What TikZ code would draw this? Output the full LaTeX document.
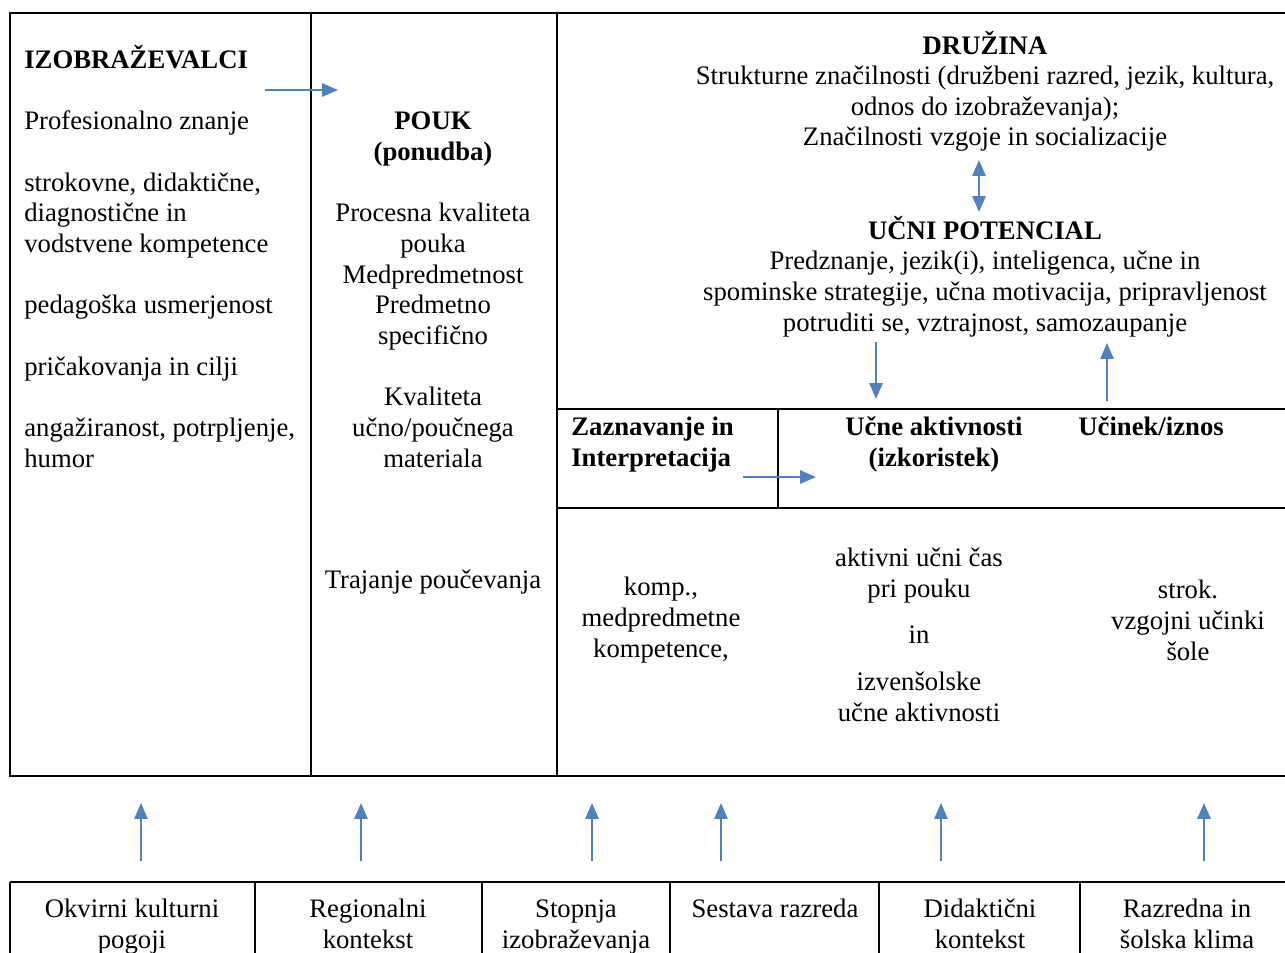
\documentclass[tikz,border=0pt]{standalone}
\usepackage{fontspec}
\setmainfont{Liberation Serif}
\usetikzlibrary{arrows.meta}
\definecolor{arrowblue}{RGB}{79,129,189}
\newcommand{\linegap}{17.45pt}
\tikzset{
  >={Triangle[length=9pt,width=7.5pt]},
  {frame/.style} ={draw, line width=1.2pt},
  {txt/.style} ={inner sep=0, font=\fontsize{15.2}{17.45}\selectfont},
  {boldtxt/.style} ={inner sep=0, font=\fontsize{15.2}{17.45}\selectfont\bfseries},
  {lefttxt/.style} ={align=left, anchor=base west},
  {midtxt/.style} ={align=center, anchor=base},
  {flow/.style} ={->, draw=arrowblue, line width=1.1pt},
  {twoflow/.style} ={flow, <->},
}
\begin{document}
\begin{tikzpicture}[x=0.02cm, y=-0.02cm]
    \useasboundingbox (0,0) rectangle (1285,953);
    \clip (0,0) rectangle (1285,953);
    % upper table
    \draw[frame] (10,13) rectangle (1295,776);
    \draw[frame] (311,13) -- (311,776);
    \draw[frame] (557,13) -- (557,776);
    \draw[frame] (557,409) -- (1295,409);
    \draw[frame] (557,508) -- (1295,508);
    \draw[frame] (778,409) -- (778,508);
    % lower table
    \draw[frame] (10,882) -- (1295,882);
    \foreach \x in {10,255,482,670,879,1080}
      \draw[frame] (\x,882) -- (\x,970);

    % nodes are placed by the baseline of their last line
    \node[txt,lefttxt] (izob) at (24,467) {\textbf{IZOBRAŽEVALCI}\\[\linegap]
      Profesionalno znanje\\[\linegap]
      strokovne, didaktične,\\ diagnostične in\\ vodstvene kompetence\\[\linegap]
      pedagoška usmerjenost\\[\linegap]
      pričakovanja in cilji\\[\linegap]
      angažiranost, potrpljenje,\\ humor};
    \node[txt,midtxt] (pouk) at (433,467) {\textbf{POUK}\\ \textbf{(ponudba)}\\[\linegap]
      Procesna kvaliteta\\ pouka\\ Medpredmetnost\\ Predmetno\\ specifično\\[\linegap]
      Kvaliteta\\ učno/poučnega\\ materiala};
    \node[txt,midtxt] (trajanje) at (433,588) {Trajanje poučevanja};

    \node[txt,midtxt] (druzina) at (985,146) {\textbf{DRUŽINA}\\
      Strukturne značilnosti (družbeni razred, jezik, kultura,\\
      odnos do izobraževanja);\\ Značilnosti vzgoje in socializacije};
    \node[txt,midtxt] (potencial) at (985,331) {\textbf{UČNI POTENCIAL}\\
      Predznanje, jezik(i), inteligenca, učne in\\
      spominske strategije, učna motivacija, pripravljenost\\
      potruditi se, vztrajnost, samozaupanje};

    \node[boldtxt,lefttxt] (zaznavanje) at (571,466) {Zaznavanje in\\ Interpretacija};
    \node[boldtxt,midtxt] (aktivnosti) at (934,466) {Učne aktivnosti\\ (izkoristek)};
    \node[boldtxt,lefttxt] (ucinek) at (1078,435) {Učinek/iznos};

    \node[txt,midtxt] (komp) at (661,657) {komp.,\\ medpredmetne\\ kompetence,};
    \node[txt,midtxt] (cas) at (919,721) {aktivni učni čas\\ pri pouku\\[9pt] in\\[9pt]
      izvenšolske\\ učne aktivnosti};
    \node[txt,midtxt] (strok) at (1188,660) {strok.\\ vzgojni učinki\\ šole};

    \node[txt,midtxt] (okvirni) at (132,948) {Okvirni kulturni\\ pogoji};
    \node[txt,midtxt] (regionalni) at (368,948) {Regionalni\\ kontekst};
    \node[txt,midtxt] (stopnja) at (576,948) {Stopnja\\ izobraževanja};
    \node[txt,midtxt] (sestava) at (775,917) {Sestava razreda};
    \node[txt,midtxt] (didakticni) at (980,948) {Didaktični\\ kontekst};
    \node[txt,midtxt] (razredna) at (1187,948) {Razredna in\\ šolska klima};

    % arrows
    \coordinate (izobout) at (265,90);
    \coordinate (poukin) at (338,90);
    \coordinate (druzinaout) at (979,160);
    \coordinate (potencialin) at (979,212);
    \coordinate (potencialout) at (876,342);
    \coordinate (aktivnostiin) at (876,399);
    \coordinate (ucinekout) at (1107,401);
    \coordinate (potencialback) at (1107,343);
    \coordinate (zaznavanjeout) at (743,477);
    \coordinate (aktivnostileft) at (816,477);
    \draw[flow] (izobout) -- (poukin);
    \draw[twoflow] (druzinaout) -- (potencialin);
    \draw[flow] (potencialout) -- (aktivnostiin);
    \draw[flow] (ucinekout) -- (potencialback);
    \draw[flow] (zaznavanjeout) -- (aktivnostileft);
    \foreach \x [count=\i] in {141,361,592,721,941,1204} {
      \coordinate (kontekst\i) at (\x,861);
      \coordinate (tabela\i) at (\x,803);
      \draw[flow] (kontekst\i) -- (tabela\i);
    }
\end{tikzpicture}
\end{document}
